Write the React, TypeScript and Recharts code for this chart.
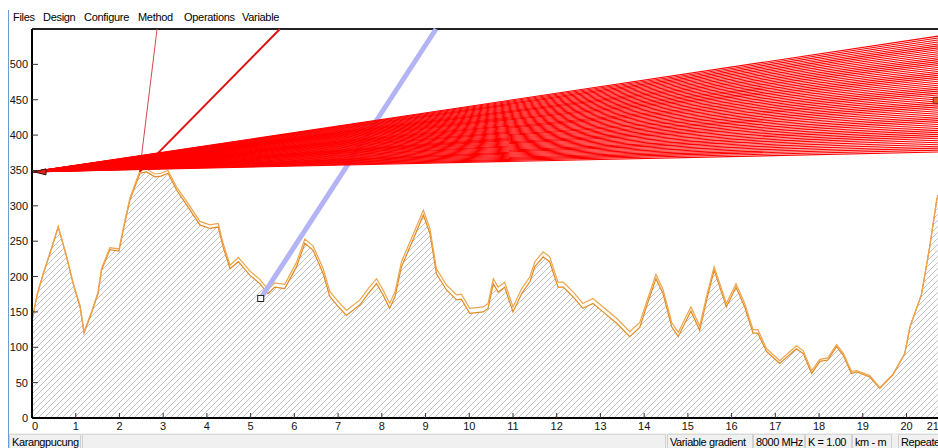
import {
  Area,
  ComposedChart,
  Line,
  ReferenceDot,
  ReferenceLine,
  XAxis,
  YAxis,
} from 'recharts';

// profile samples: distance (km), ground (m), ground + bulge (m)
const KM = [
  0, 0.12, 0.26, 0.45, 0.6, 0.79, 0.94, 1.1, 1.19, 1.36,
  1.51, 1.59, 1.78, 1.99, 2.12, 2.24, 2.47, 2.62, 2.81, 2.95,
  3.11, 3.31, 3.54, 3.84, 4.07, 4.26, 4.37, 4.53, 4.72, 4.98,
  5.21, 5.4, 5.55, 5.78, 6.05, 6.24, 6.43, 6.66, 6.81, 6.97,
  7.19, 7.5, 7.69, 7.88, 8.03, 8.18, 8.3, 8.45, 8.68, 8.95,
  9.1, 9.25, 9.48, 9.71, 9.82, 10.01, 10.32, 10.43, 10.55, 10.66,
  10.81, 11.0, 11.2, 11.39, 11.5, 11.69, 11.84, 12.03, 12.15, 12.38,
  12.6, 12.83, 13.06, 13.37, 13.67, 13.9, 14.05, 14.27, 14.43, 14.63,
  14.78, 14.93, 15.07, 15.27, 15.43, 15.6, 15.88, 16.1, 16.3, 16.49,
  16.6, 16.8, 17.1, 17.48, 17.64, 17.83, 18.02, 18.2, 18.4, 18.55,
  18.74, 18.86, 19.16, 19.39, 19.69, 19.96, 20.08, 20.34, 20.53, 20.69,
  20.72,
];

const GROUND = [
  138, 175, 204, 240, 270, 228, 190, 157, 120, 148,
  176, 209, 238, 236, 275, 308, 346, 348, 341, 342,
  346, 322, 301, 273, 268, 270, 242, 211, 221, 202,
  190, 176, 185, 183, 214, 247, 237, 204, 172, 160,
  145, 160, 176, 190, 174, 155, 171, 214, 247, 287,
  261, 204, 181, 167, 168, 148, 150, 155, 190, 178,
  185, 150, 176, 193, 214, 228, 221, 185, 185, 171,
  155, 162, 150, 134, 115, 128, 157, 197, 176, 129,
  115, 134, 151, 124, 167, 209, 157, 185, 157, 120,
  120, 94, 77, 98, 91, 63, 80, 82, 101, 89,
  63, 65, 58, 42, 61, 91, 129, 174, 242, 308,
  315,
];

const TOP = [
  138, 175, 205, 241, 271, 229, 191, 159, 122, 150,
  178, 211, 241, 239, 278, 311, 350, 352, 345, 346,
  350, 326, 306, 278, 273, 275, 247, 216, 227, 208,
  196, 182, 191, 189, 220, 253, 243, 211, 179, 167,
  152, 167, 183, 197, 181, 162, 178, 221, 254, 294,
  268, 211, 188, 174, 175, 155, 157, 162, 197, 185,
  192, 157, 183, 200, 221, 235, 228, 192, 192, 178,
  162, 169, 157, 141, 122, 135, 163, 203, 182, 135,
  121, 140, 157, 130, 173, 214, 162, 190, 162, 125,
  125, 98, 81, 102, 95, 67, 83, 85, 104, 92,
  66, 67, 60, 43, 62, 91, 129, 174, 242, 308,
  315,
];

// left antenna and the far-end heights swept by the red fan
const SITE_A = { km: 0, m: 348 };
const SITE_B = { km: 20.68, m: 449 };
const PATH_END = 20.72;
const FAN_FAR = [
  376, 378.8, 381.6, 384.3, 387.1, 389.9, 392.7, 395.5, 398.2, 401,
  403.8, 406.6, 409.4, 412.1, 414.9, 417.7, 420.5, 423.3, 426, 428.8,
  431.6, 434.4, 437.2, 439.9, 442.7, 445.5, 448.3, 451.1, 453.8, 456.6,
  459.4, 462.2, 465, 467.7, 470.5, 473.3, 476.1, 478.9, 481.6, 484.4,
  487.2, 490, 492.8, 495.5, 498.3, 501.1, 503.9, 506.7, 509.4, 512.2,
  515, 517.8, 520.6, 523.3, 526.1, 528.9, 531.7, 534.5, 537.2, 540,
];

// rays leaving the obstruction near 2.5 km
const OBSTACLE = { km: 2.46, m: 348 };
const RAYS = [
  { km: 2.86, m: 550, color: '#d24a4a', width: 1 },
  { km: 5.67, m: 550, color: '#e01010', width: 2 },
];

// reflection point and its beam
const REFLECT = { km: 5.23, m: 169 };
const BEAM_END = { km: 9.24, m: 550 };

const X_TICKS = [0, 1, 2, 3, 4, 5, 6, 7, 8, 9, 10, 11, 12, 13, 14, 15, 16, 17, 18, 19, 20, PATH_END];
const Y_TICKS = [0, 50, 100, 150, 200, 250, 300, 350, 400, 450, 500];

const MENU = [
  { label: 'Files', left: 13 },
  { label: 'Design', left: 43 },
  { label: 'Configure', left: 84 },
  { label: 'Method', left: 138 },
  { label: 'Operations', left: 184 },
  { label: 'Variable', left: 242 },
];

const STATUS = [
  { label: 'Karangpucung', left: 9, width: 72 },
  { label: '', left: 82, width: 584 },
  { label: 'Variable gradient', left: 667, width: 86 },
  { label: '8000 MHz', left: 753, width: 52 },
  { label: 'K = 1.00', left: 805, width: 47 },
  { label: 'km - m', left: 852, width: 40 },
  { label: 'Repeater', left: 898, width: 60 },
];

const FONT = '"Liberation Sans", Arial, sans-serif';

const rows = KM.map((km, i) => ({ km, ground: GROUND[i], top: TOP[i] }));

function DistanceTick(props: any) {
  const { x, y, payload } = props;
  const v = payload.value;
  const last = v > 20.5;
  const lx = last ? x + 1 : v === 0 ? x + 3 : x;
  return (
    <g>
      {v > 0 && !last && <line x1={x} y1={y} x2={x} y2={y - 5} stroke="#333" />}
      <text
        x={lx}
        y={y + 12}
        textAnchor={last ? 'end' : 'middle'}
        fontSize={11}
        fontFamily={FONT}
        fill="#111"
      >
        {Math.round(v)}
      </text>
    </g>
  );
}

function HeightTick(props: any) {
  const { x, y, payload } = props;
  return (
    <g>
      {payload.value > 0 && <line x1={x} y1={y} x2={x + 6} y2={y} stroke="#333" />}
      <text x={x - 4} y={y + 4} textAnchor="end" fontSize={11} fontFamily={FONT} fill="#111">
        {payload.value}
      </text>
    </g>
  );
}

const siteMarker = (p: any) => (
  <polygon
    points={`${p.cx + 2},${p.cy} ${p.cx + 14},${p.cy - 3} ${p.cx + 14},${p.cy + 3}`}
    fill="#e02020"
    stroke="#401010"
    strokeWidth={1}
  />
);

const squareMarker = (fill: string, stroke: string) => (p: any) => (
  <rect x={p.cx - 3} y={p.cy - 3} width={6} height={6} fill={fill} stroke={stroke} strokeWidth={1} />
);

export default function App() {
  return (
    <div
      style={{
        position: 'fixed',
        left: 0,
        top: 0,
        width: 938,
        height: 448,
        overflow: 'hidden',
        background: '#fff',
        fontFamily: FONT,
      }}
    >
      <div style={{ position: 'absolute', left: 8, top: 10, width: 1, height: 438, background: '#6a9fd4' }} />
      {MENU.map((m) => (
        <span
          key={m.label}
          style={{ position: 'absolute', left: m.left, top: 11, fontSize: 11, letterSpacing: -0.3, color: '#000' }}
        >
          {m.label}
        </span>
      ))}

      <div style={{ position: 'absolute', left: 0, top: 0 }}>
        <ComposedChart width={938} height={448} data={rows} margin={{ top: 29, right: 0, bottom: 0, left: 0 }}>
          <defs>
            <pattern id="hatch" patternUnits="userSpaceOnUse" width={6} height={6}>
              <path d="M0,6 L6,0 M-1,1 L1,-1 M5,7 L7,5" stroke="#b2b2b2" strokeWidth={0.8} />
            </pattern>
          </defs>
          <XAxis
            type="number"
            dataKey="km"
            domain={[0, PATH_END]}
            ticks={X_TICKS}
            allowDataOverflow
            height={30}
            tickSize={0}
            tickMargin={0}
            tickLine={false}
            axisLine={{ stroke: '#000', strokeWidth: 2 }}
            tick={<DistanceTick />}
            interval={0}
          />
          <YAxis
            type="number"
            domain={[0, 550]}
            ticks={Y_TICKS}
            allowDataOverflow
            width={32}
            tickSize={0}
            tickMargin={0}
            tickLine={false}
            axisLine={{ stroke: '#000', strokeWidth: 2 }}
            tick={<HeightTick />}
            interval={0}
          />
          <ReferenceLine y={550} stroke="#222" strokeWidth={2} />

          <Area
            type="linear"
            dataKey="ground"
            fill="url(#hatch)"
            fillOpacity={1}
            stroke="#e08a22"
            strokeWidth={1.2}
            dot={false}
            activeDot={false}
            isAnimationActive={false}
          />
          <Line
            type="linear"
            dataKey="top"
            stroke="#eda54c"
            strokeWidth={1.2}
            dot={false}
            activeDot={false}
            isAnimationActive={false}
          />

          {/* reflected beam sits under the fan */}
          <ReferenceLine
            segment={[
              { x: REFLECT.km, y: REFLECT.m },
              { x: BEAM_END.km, y: BEAM_END.m },
            ]}
            stroke="#b3b3f5"
            strokeWidth={5}
          />

          {RAYS.map((r, i) => (
            <ReferenceLine
              key={`ray-${i}`}
              segment={[
                { x: OBSTACLE.km, y: OBSTACLE.m },
                { x: r.km, y: r.m },
              ]}
              stroke={r.color}
              strokeWidth={r.width}
            />
          ))}

          {FAN_FAR.map((h) => (
            <ReferenceLine
              key={`fan-${h}`}
              segment={[
                { x: SITE_A.km, y: SITE_A.m },
                { x: PATH_END, y: h },
              ]}
              stroke="#ff0000"
              strokeWidth={1.1}
            />
          ))}

          <ReferenceDot x={REFLECT.km} y={REFLECT.m} r={3} shape={squareMarker('#fff', '#222')} />
          <ReferenceDot x={SITE_A.km} y={SITE_A.m} r={3} shape={siteMarker} />
          <ReferenceDot x={SITE_B.km} y={SITE_B.m} r={3} shape={squareMarker('#e06020', '#a02010')} />
        </ComposedChart>
      </div>

      <div style={{ position: 'absolute', left: 9, top: 433, width: 929, height: 15, background: '#f0f0f0' }} />
      {STATUS.map((s, i) => (
        <div
          key={i}
          style={{
            position: 'absolute',
            left: s.left,
            top: 434,
            width: s.width,
            height: 14,
            boxSizing: 'border-box',
            borderLeft: '1px solid #d0d0d0',
            borderRight: '1px solid #d0d0d0',
            borderTop: '1px solid #d8d8d8',
            fontSize: 11,
            letterSpacing: -0.4,
            lineHeight: '14px',
            paddingLeft: 2,
            whiteSpace: 'nowrap',
            overflow: 'hidden',
            color: '#000',
          }}
        >
          {s.label}
        </div>
      ))}
    </div>
  );
}
